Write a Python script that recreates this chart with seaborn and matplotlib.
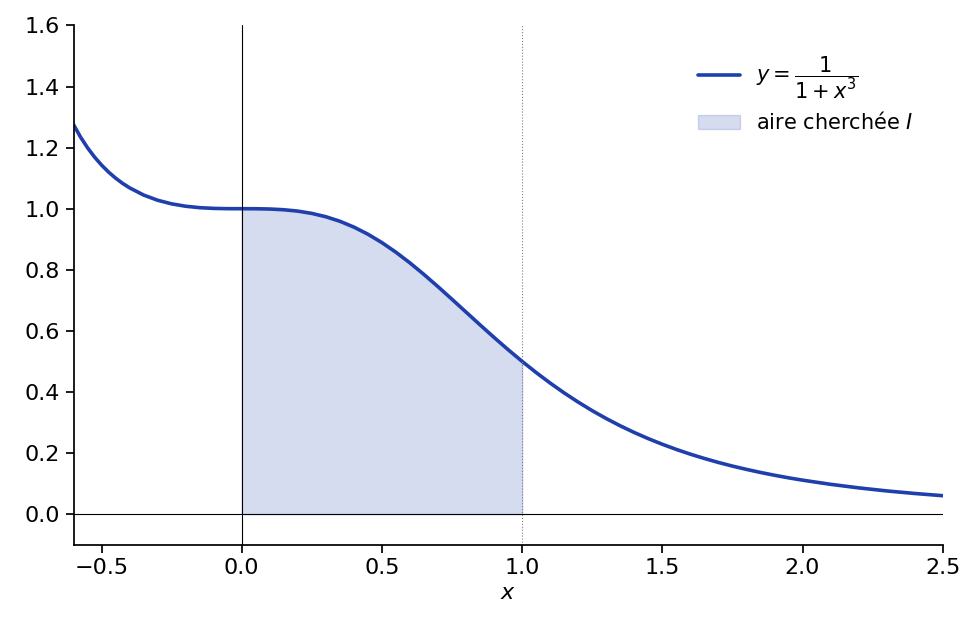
import numpy as np
import pandas as pd
import matplotlib
matplotlib.use("Agg")
import matplotlib.pyplot as plt
import seaborn as sns

x_vals = [-0.6, -0.575, -0.55, -0.525, -0.5, -0.475, -0.45, -0.425, -0.4, -0.35, -0.3,
          -0.25, -0.2, -0.15, -0.1, -0.05, 0.0, 0.05, 0.1, 0.15, 0.2, 0.25, 0.3, 0.35,
          0.4, 0.45, 0.5, 0.55, 0.6, 0.65, 0.7, 0.75, 0.8, 0.85, 0.9, 0.95, 1.0,
          1.05, 1.1, 1.15, 1.2, 1.25, 1.3, 1.35, 1.4, 1.45, 1.5, 1.55, 1.6, 1.65,
          1.7, 1.75, 1.8, 1.85, 1.9, 1.95, 2.0, 2.1, 2.2, 2.3, 2.4, 2.5]
y_vals = [1.2755, 1.2347, 1.1996, 1.1692, 1.1429, 1.1200, 1.1003, 1.0831, 1.0684,
          1.0448, 1.0277, 1.0159, 1.0081, 1.0034, 1.0010, 1.0001, 1.0, 0.9999, 0.9990,
          0.9966, 0.9921, 0.9846, 0.9737, 0.9589, 0.9398, 0.9165, 0.8889, 0.8574,
          0.8224, 0.7845, 0.7446, 0.7033, 0.6614, 0.6195, 0.5784, 0.5384, 0.5,
          0.4635, 0.4290, 0.3967, 0.3666, 0.3386, 0.3128, 0.2890, 0.2671, 0.2470,
          0.2286, 0.2117, 0.1962, 0.1821, 0.1691, 0.1572, 0.1464, 0.1364, 0.1272,
          0.1188, 0.1111, 0.0975, 0.0859, 0.0759, 0.0675, 0.0602]
x_ticks = [-0.5, 0.0, 0.5, 1.0, 1.5, 2.0, 2.5]
y_ticks = [0.0, 0.2, 0.4, 0.6, 0.8, 1.0, 1.2, 1.4, 1.6]

df = pd.DataFrame({"x": x_vals, "y": y_vals})
sns.set_theme(style="ticks")
plt.rcParams['font.family'] = ['DejaVu Sans']
plt.rcParams['text.color'] = 'black'
plt.rcParams['xtick.color'] = 'black'
plt.rcParams['ytick.color'] = 'black'
plt.rcParams['axes.labelcolor'] = 'black'
plt.rcParams['axes.edgecolor'] = 'black'
fig, ax = plt.subplots(figsize=(9.8, 6.37), dpi=100)
color = "#1f3fad"
sns.lineplot(data=df, x="x", y="y", ax=ax, color=color, lw=2.6,
             label=r"$y=\dfrac{1}{1+x^3}$")
sub = df[(df.x >= 0) & (df.x <= 1)]
ax.fill_between(sub.x, 0, sub.y, color=color, alpha=0.18, label=r"aire cherchée $I$")
ax.axhline(0, color="black", lw=0.8)
ax.axvline(0, color="black", lw=0.8)
ax.axvline(1, color="gray", lw=0.8, ls=":")
ax.set_xlim(-0.6, 2.5)
ax.set_ylim(-0.1, 1.6)
ax.set_xticks(x_ticks)
ax.set_yticks(y_ticks)
ax.tick_params(labelsize=16)
ax.set_xlabel("$x$", fontsize=16)
ax.set_ylabel("")
sns.despine(ax=ax)
ax.legend(frameon=False, fontsize=15, loc="upper right", borderaxespad=1.0)
fig.subplots_adjust(left=0.075, right=0.962, top=0.96, bottom=0.145)
fig.savefig("out.png", dpi=100)
